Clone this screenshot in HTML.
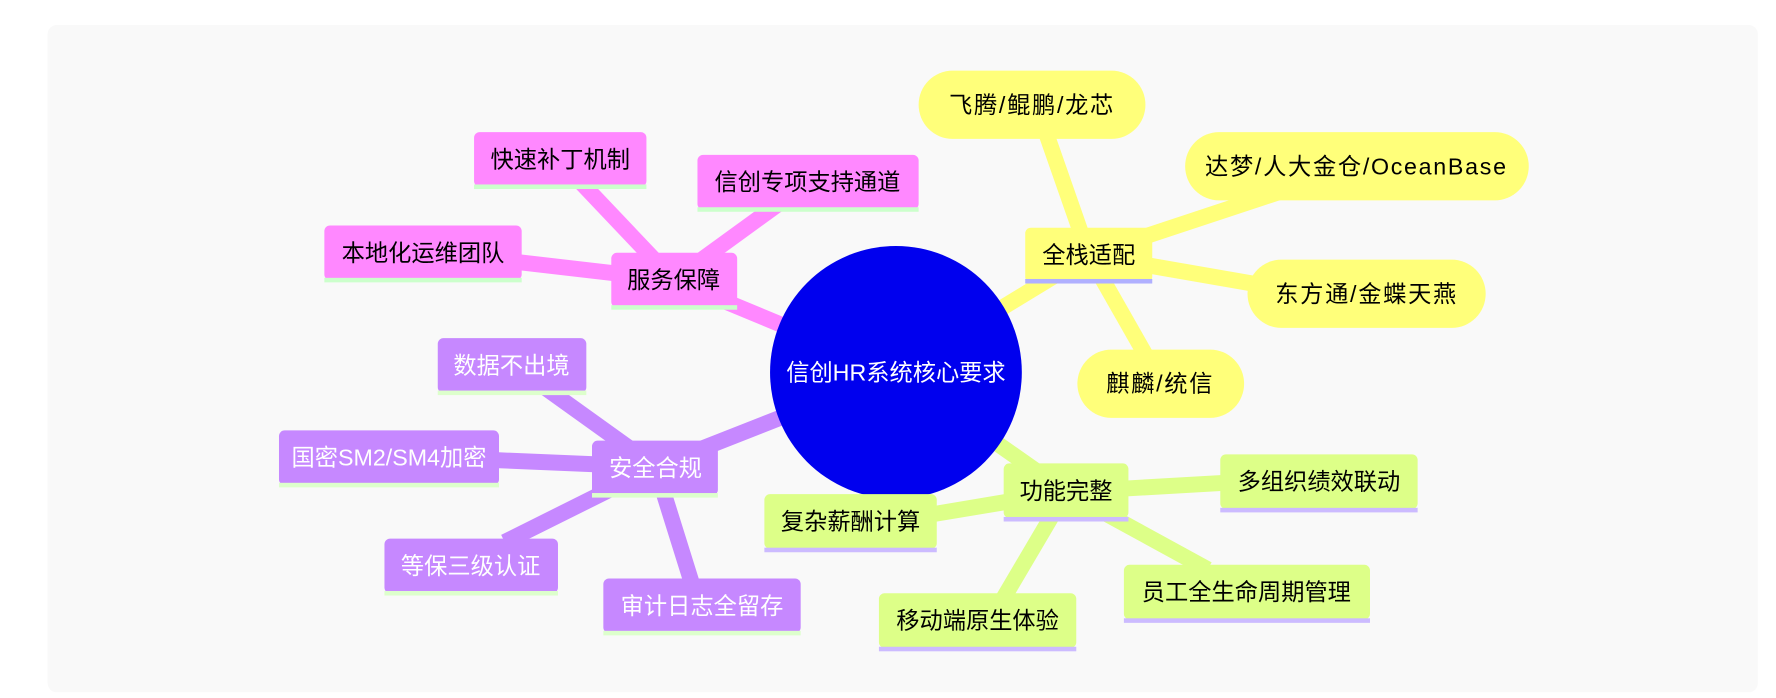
<!DOCTYPE html>
<html><head><meta charset="utf-8"><style>
html,body{margin:0;padding:0;background:#fff;width:1776px;height:698px;overflow:hidden}
svg{display:block}
text{font-family:"Liberation Sans","Noto Sans CJK SC",sans-serif;font-size:20.5px;text-anchor:middle;dominant-baseline:central}
.sl{letter-spacing:1.5px}
</style></head><body>
<svg width="1776" height="698" viewBox="0 0 1566 613" preserveAspectRatio="none">
<rect x="42" y="22" width="1508" height="586" rx="8" fill="#f9f9f9"/>
<g stroke-linecap="butt" fill="none">
<g stroke="#ffff7a" stroke-width="14">
<line x1="790" y1="327" x2="960" y2="224"/>
<line x1="960" y1="224" x2="920" y2="110"/>
<line x1="960" y1="224" x2="1130" y2="168"/>
<line x1="960" y1="224" x2="1110" y2="250"/>
<line x1="960" y1="224" x2="1012" y2="315"/>
</g>
<g stroke="#ff88ff" stroke-width="14">
<line x1="790" y1="327" x2="594" y2="246"/>
<line x1="594" y1="246" x2="512" y2="160"/>
<line x1="594" y1="246" x2="688" y2="178"/>
<line x1="594" y1="246" x2="455" y2="230"/>
</g>
<g stroke="#c688ff" stroke-width="14">
<line x1="790" y1="327" x2="578" y2="410"/>
<line x1="578" y1="410" x2="480" y2="340"/>
<line x1="578" y1="410" x2="435" y2="404"/>
<line x1="578" y1="410" x2="445" y2="476"/>
<line x1="578" y1="410" x2="610" y2="512"/>
</g>
<g stroke="#ddff88" stroke-width="14">
<line x1="790" y1="327" x2="940" y2="432"/>
<line x1="940" y1="432" x2="820" y2="452"/>
<line x1="940" y1="432" x2="1080" y2="424"/>
<line x1="940" y1="432" x2="1065" y2="500"/>
<line x1="940" y1="432" x2="885" y2="525"/>
</g>
</g>
<circle cx="790" cy="327" r="111" fill="#0000ee"/>
<text x="790" y="327" fill="#fff">信创HR系统核心要求</text>

<rect x="904" y="200" width="112" height="48" rx="5" fill="#ffff7a"/><rect x="904" y="245" width="112" height="4" fill="#b0b0ff"/>
<text x="960" y="224">全栈适配</text>
<rect x="810" y="62" width="200" height="60" rx="30" fill="#ffff7a"/><text class="sl" x="910" y="92">飞腾/鲲鹏/龙芯</text>
<rect x="1045" y="116" width="303" height="60" rx="30" fill="#ffff7a"/><text class="sl" x="1196" y="146">达梦/人大金仓/OceanBase</text>
<rect x="1100" y="228" width="210" height="60" rx="30" fill="#ffff7a"/><text class="sl" x="1205" y="258">东方通/金蝶天燕</text>
<rect x="950" y="307" width="147" height="60" rx="30" fill="#ffff7a"/><text class="sl" x="1023" y="337">麒麟/统信</text>

<g fill="#ff88ff">
<rect x="539" y="222" width="111" height="48" rx="5"/>
<rect x="418" y="116" width="152" height="48" rx="5"/>
<rect x="615" y="136" width="195" height="48" rx="5"/>
<rect x="286" y="198" width="174" height="48" rx="5"/>
</g>
<g fill="#ccffcc">
<rect x="539" y="268" width="111" height="4"/>
<rect x="418" y="162" width="152" height="4"/>
<rect x="615" y="182" width="195" height="4"/>
<rect x="286" y="244" width="174" height="4"/>
</g>
<text x="594" y="246">服务保障</text>
<text x="494" y="140">快速补丁机制</text>
<text x="712" y="160">信创专项支持通道</text>
<text x="373" y="222">本地化运维团队</text>

<g fill="#c688ff">
<rect x="522" y="387" width="111" height="48" rx="5"/>
<rect x="386" y="297" width="131" height="48" rx="5"/>
<rect x="246" y="378" width="194" height="48" rx="5"/>
<rect x="339" y="473" width="153" height="48" rx="5"/>
<rect x="532" y="508" width="174" height="48" rx="5"/>
</g>
<g fill="#ddffcc">
<rect x="522" y="433" width="111" height="4"/>
<rect x="386" y="343" width="131" height="4"/>
<rect x="246" y="424" width="194" height="4"/>
<rect x="339" y="519" width="153" height="4"/>
<rect x="532" y="554" width="174" height="4"/>
</g>
<g fill="#fff">
<text x="578" y="411">安全合规</text>
<text x="451" y="321">数据不出境</text>
<text x="343" y="402">国密SM2/SM4加密</text>
<text x="415" y="497">等保三级认证</text>
<text x="619" y="532">审计日志全留存</text>
</g>

<g fill="#ddff88">
<rect x="885" y="407" width="110" height="48" rx="5"/>
<rect x="674" y="434" width="152" height="48" rx="5"/>
<rect x="1076" y="399" width="174" height="48" rx="5"/>
<rect x="991" y="496" width="217" height="48" rx="5"/>
<rect x="775" y="521" width="174" height="48" rx="5"/>
</g>
<g fill="#ccbbff">
<rect x="885" y="454" width="110" height="4"/>
<rect x="674" y="481" width="152" height="4"/>
<rect x="1076" y="446" width="174" height="4"/>
<rect x="991" y="543" width="217" height="4"/>
<rect x="775" y="568" width="174" height="4"/>
</g>
<text x="940" y="431">功能完整</text>
<text x="750" y="458">复杂薪酬计算</text>
<text x="1163" y="423">多组织绩效联动</text>
<text x="1099" y="520">员工全生命周期管理</text>
<text x="862" y="545">移动端原生体验</text>
</svg>
</body></html>
